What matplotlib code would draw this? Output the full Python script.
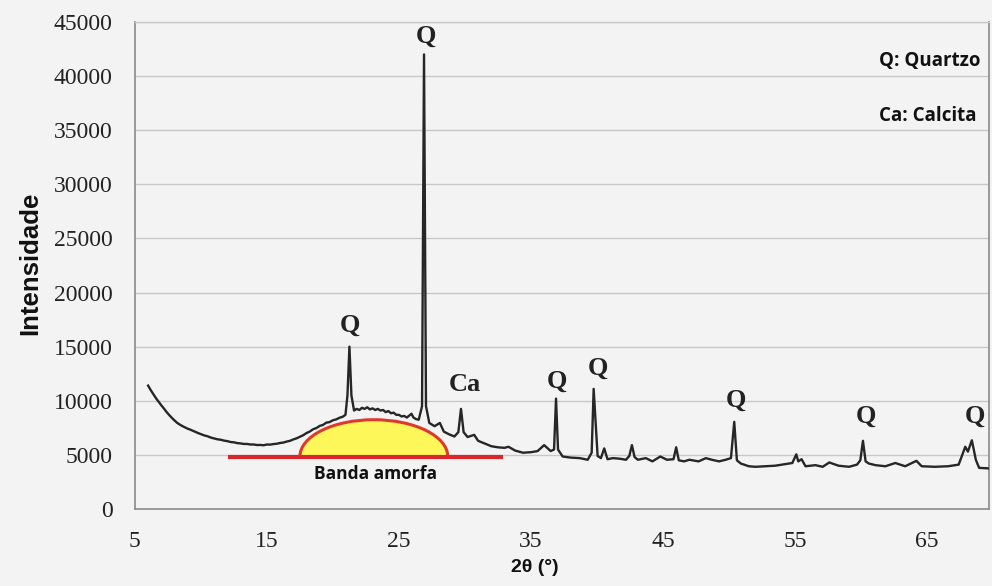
import numpy as np
import matplotlib
matplotlib.use("Agg")
import matplotlib.pyplot as plt
from matplotlib.patches import Ellipse, Rectangle


# ------------------------------------------------------------
# difratograma (2θ em graus, intensidade em contagens)
# ------------------------------------------------------------
two_theta = [
    6.0, 6.2, 6.4, 6.6, 6.8, 7.0, 7.2, 7.4, 7.6, 7.8,
    8.0, 8.2, 8.4, 8.6, 8.8, 9.0, 9.2, 9.4, 9.6, 9.8,
    10.0, 10.25, 10.5, 10.75, 11.0, 11.25, 11.5, 11.75, 12.0, 12.25,
    12.5, 12.75, 13.0, 13.25, 13.5, 13.75, 14.0, 14.25, 14.5, 14.75,
    15.0, 15.25, 15.5, 15.75, 16.0, 16.25, 16.5, 16.75, 17.0, 17.25,
    17.5, 17.75, 18.0, 18.25, 18.5, 18.75, 19.0, 19.25, 19.5, 19.75,
    20.0, 20.25, 20.5, 20.75, 20.95, 21.1, 21.25, 21.4,
    21.6, 21.8, 22.0, 22.2, 22.4, 22.6, 22.8, 23.0, 23.2, 23.4,
    23.6, 23.8, 24.0, 24.2, 24.4, 24.6, 24.8, 25.0, 25.2, 25.4,
    25.6, 25.8, 25.95, 26.1, 26.3, 26.5, 26.75, 26.9,
    27.05, 27.3, 27.7, 28.1, 28.4, 28.8, 29.2, 29.5, 29.7, 29.9,
    30.2, 30.7, 31.0, 31.4, 32.0, 32.5, 33.0, 33.3, 33.8, 34.4,
    35.0, 35.5, 36.0, 36.5, 36.75, 36.9, 37.05, 37.4, 38.0, 38.7,
    39.3, 39.6, 39.75, 39.9, 40.05, 40.3, 40.55, 40.8, 41.2, 41.7,
    42.2, 42.45, 42.65, 42.85, 43.1, 43.7, 44.2, 44.8, 45.3, 45.8,
    46.0, 46.2, 46.6, 47.0, 47.7, 48.25, 48.7, 49.25, 49.75, 50.15,
    50.4, 50.6, 50.9, 51.5, 52.0, 52.8, 53.5, 54.3, 54.8, 55.1,
    55.25, 55.5, 55.8, 56.55, 57.1, 57.6, 58.3, 59.1, 59.7, 59.95,
    60.15, 60.35, 60.6, 61.1, 61.85, 62.6, 63.35, 64.2, 64.6, 65.6,
    66.6, 67.4, 67.9, 68.1, 68.4, 68.7, 68.95, 69.7,
]
intensidade = [
    11400, 10980, 10600, 10230, 9900, 9580, 9280, 8960, 8680, 8420,
    8180, 7960, 7800, 7660, 7540, 7420, 7330, 7220, 7120, 7010,
    6920, 6800, 6720, 6600, 6520, 6440, 6400, 6320, 6270, 6190,
    6160, 6090, 6060, 6010, 6010, 5960, 5960, 5910, 5920, 5890,
    5960, 5950, 6000, 6030, 6100, 6140, 6230, 6300, 6430, 6530,
    6680, 6820, 7020, 7160, 7370, 7480, 7680, 7770, 7980, 8030,
    8200, 8280, 8430, 8530, 8700, 10500, 15000, 10500,
    9100, 9250, 9150, 9350, 9250, 9400, 9200, 9300, 9150, 9250,
    9100, 9150, 8950, 9050, 8850, 8900, 8700, 8700, 8550, 8600,
    8450, 8650, 8800, 8450, 8300, 8250, 9500, 42000,
    9500, 7950, 7650, 7950, 7150, 6900, 6700, 7100, 9250, 7100,
    6650, 6850, 6300, 6100, 5800, 5700, 5650, 5750, 5400, 5200,
    5250, 5350, 5900, 5350, 5500, 10200, 5500, 4850, 4750, 4700,
    4550, 5200, 11100, 8000, 4900, 4700, 5600, 4600, 4700, 4650,
    4550, 4900, 5900, 4800, 4550, 4700, 4400, 4850, 4550, 4600,
    5700, 4500, 4400, 4550, 4400, 4700, 4550, 4400, 4550, 4700,
    8050, 4500, 4200, 3950, 3900, 3950, 4000, 4150, 4250, 5050,
    4400, 4600, 3950, 4050, 3900, 4300, 4000, 3900, 4100, 4500,
    6300, 4400, 4200, 4050, 3950, 4250, 3950, 4450, 3950, 3900,
    3950, 4100, 5750, 5300, 6350, 4550, 3800, 3750,
]

# identificação das fases (rótulo, 2θ, altura do texto)
fase_rotulo = ["Q", "Q", "Ca", "Q", "Q", "Q", "Q", "Q"]
fase_x = [21.3, 27.05, 30.0, 37.0, 40.05, 50.55, 60.35, 68.65]
fase_y = [17000, 43700, 11500, 11800, 13000, 10000, 8550, 8550]

legenda = ["Q: Quartzo", "Ca: Calcita"]
legenda_y = [41400, 36300]

# banda amorfa: início, fim, base e topo
banda_ini, banda_fim = 17.5, 28.7
banda_base, banda_topo = 4850, 8250
linha_base_x = [12.05, 32.85]
linha_base_y = [4820, 4820]

# ------------------------------------------------------------
# figura
# ------------------------------------------------------------
bg = "#f3f3f3"
fig = plt.figure(figsize=(9.92, 5.86), dpi=100, facecolor=bg)
ax = fig.add_axes([0.136, 0.1314, 0.861, 0.8311], facecolor=bg)

ax.grid(axis="y", color="#c8c8c8", linewidth=1.0, zorder=0)
ax.set_axisbelow(True)

# meia-elipse da banda amorfa (recortada acima da linha de base)
elipse = Ellipse(((banda_ini + banda_fim) / 2, banda_base),
                 banda_fim - banda_ini, 2 * (banda_topo - banda_base),
                 facecolor="#fdf75a", edgecolor="#e0392b", linewidth=2.2, zorder=2)
ax.add_patch(elipse)
clip = Rectangle((0, banda_base), 100, 50000, transform=ax.transData)
elipse.set_clip_path(clip)
ax.plot(linha_base_x, linha_base_y, color="#d9262b", linewidth=3, zorder=3,
        solid_capstyle="butt")
ax.text((banda_ini + banda_fim) / 2 + 0.1, 3250, "Banda amorfa", ha="center", va="center",
        fontsize=12.5, fontweight="bold", family="Open Sans", color="#111111")

ax.plot(two_theta, intensidade, color="#262626", linewidth=1.7, zorder=4)

for lab, xx, yy in zip(fase_rotulo, fase_x, fase_y):
    ax.text(xx, yy, lab, ha="center", va="center", fontsize=19,
            fontweight="bold", family="Liberation Serif", color="#222222")

for lab, yy in zip(legenda, legenda_y):
    ax.text(61.4, yy, lab, ha="left", va="center", fontsize=13.5,
            fontweight="bold", family="Open Sans", color="#111111")

ax.set_xlim(5, 69.7)
ax.set_ylim(0, 45000)
ax.set_xticks(np.arange(5, 70, 10))
ax.set_yticks(np.arange(0, 45001, 5000))
ax.tick_params(length=0, labelsize=17, pad=16, colors="#222222")
for lbl in ax.get_xticklabels() + ax.get_yticklabels():
    lbl.set_family("Liberation Serif")

for side in ["left", "bottom", "right"]:
    ax.spines[side].set_color("#8a8a8a")
    ax.spines[side].set_linewidth(1.2)
ax.spines["top"].set_color("#c8c8c8")
ax.spines["top"].set_linewidth(1.0)

fig.text(535 / 992, 1 - 567 / 586, "2θ (°)", ha="center", va="center",
         fontsize=14, fontweight="bold", family="Liberation Sans", color="#111111")
fig.text(30 / 992, 1 - 263 / 586, "Intensidade", ha="center", va="center",
         rotation=90, fontsize=18.5, fontweight="bold", family="Liberation Sans",
         color="#111111")

fig.savefig("out.png", dpi=100, facecolor=bg)
